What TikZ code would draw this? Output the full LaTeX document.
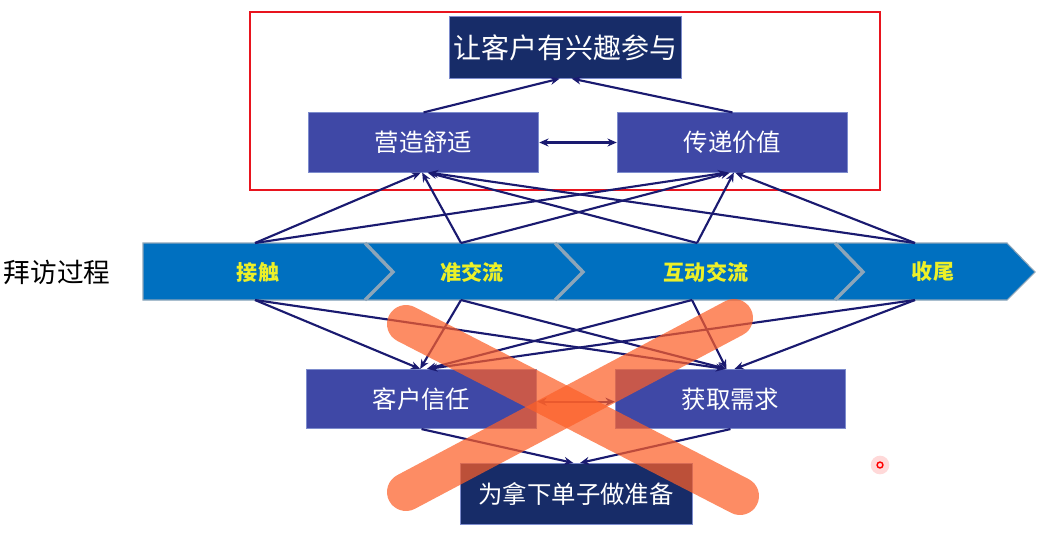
\documentclass[tikz,border=0pt]{standalone}
\usepackage{fontspec}
\setmainfont{Noto Sans CJK SC}
\usetikzlibrary{arrows.meta}
\definecolor{navy}{RGB}{23,44,104}
\definecolor{boxblue}{RGB}{63,72,166}
\definecolor{barblue}{RGB}{0,112,192}
\definecolor{linkblue}{RGB}{26,26,112}
\definecolor{crossorange}{RGB}{252,95,40}
\definecolor{stageyellow}{RGB}{236,240,40}
\definecolor{divgray}{RGB}{140,165,185}
\definecolor{framered}{RGB}{232,20,30}
\begin{document}
\begin{tikzpicture}[x=0.75pt,y=-0.75pt,
base/.style={%
  font={\color{white}\fontsize{18.3pt}{22pt}\selectfont},
  minimum width=173pt,
  minimum height=44.5pt,
  inner sep=0,
  fill=boxblue,
  draw={rgb,255:red,125;green,140;blue,205},
  line width=0.6pt,
},
goal/.style={%
  base,
  fill=navy,
  minimum width=174pt,
  minimum height=46pt,
},
stage/.style={%
  font={\bfseries\color{stageyellow}\fontsize{15.8pt}{18pt}\selectfont},
  inner sep=0,
},
link/.style={%
  draw=linkblue,
  line width=1.6pt,
  -{Stealth[length=7pt,width=6pt]},
},
both/.style={%
  link,
  {Stealth[length=7pt,width=6pt]}-{Stealth[length=7pt,width=6pt]},
},
cross/.style={%
  draw=crossorange,
  draw opacity=0.72,
  line width=28.5pt,
  line cap=round,
}
]
\useasboundingbox (0,0) rectangle (1044,533);

%Frame
\draw[framered,line width=1.1pt](250,12)rectangle(880,190);

%Goals
\node[goal,font={\color{white}\fontsize{21pt}{24pt}\selectfont}](goal)at(565,47.5){让客户有兴趣参与};
\node[base](ying)at(423.5,142.5){营造舒适};
\node[base](chuan)at(732.5,142.5){传递价值};
\draw[both](ying.east)--(chuan.west);
\draw[link](ying.north)--([xshift=-4pt]goal.south);
\draw[link](chuan.north)--([xshift=5pt]goal.south);

%Visit process
\node[font=\fontsize{20pt}{24pt}\selectfont](visit)at(57,272){拜访过程};
\fill[barblue](143,243)--(1007,243)--(1035,272)--(1007,300)--(143,300)--cycle;
\draw[divgray,line width=0.8pt](143,243)--(1007,243)--(1035,272)--(1007,300)--(143,300)--cycle;
\foreach \x in {365,555,835}
  \draw[divgray,line width=2.6pt](\x,243)--(\x+28,272)--(\x,300);
\node[stage](jiechu)at(258,272){接触};
\node[stage](zhun)at(472,272){准交流};
\node[stage](hudong)at(706,272){互动交流};
\node[stage](shouwei)at(933,272){收尾};
\coordinate(jc-n)at(255,243); \coordinate(jc-s)at(255,300);
\coordinate(zj-n)at(461,243); \coordinate(zj-s)at(461,300);
\coordinate(hd-n)at(697,243); \coordinate(hd-s)at(692,300);
\coordinate(sw-n)at(915,243); \coordinate(sw-s)at(915,300);

%Upward links
\draw[link](jc-n)--([xshift=-2pt]ying.south);
\draw[link](zj-n)--([xshift=-1pt]ying.south);
\draw[link](hd-n)--([xshift=3pt]ying.south);
\draw[link](sw-n)--([xshift=4pt]ying.south);
\draw[link](jc-n)--([xshift=-4pt]chuan.south);
\draw[link](zj-n)--([xshift=-2pt]chuan.south);
\draw[link](hd-n)--([xshift=1pt]chuan.south);
\draw[link](sw-n)--([xshift=2pt]chuan.south);

%Results
\node[base](xin)at(421.5,399){客户信任};
\node[base](huo)at(730.5,399){获取需求};
\node[goal](deal)at(576,494){为拿下单子做准备};
\draw[both]([yshift=-2pt]xin.east)--([yshift=-2pt]huo.west);
\draw[link](xin.south)--([xshift=-2pt]deal.north);
\draw[link](huo.south)--([xshift=3pt]deal.north);

%Downward links
\draw[link](jc-s)--([xshift=-1pt]xin.north);
\draw[link](zj-s)--([xshift=-1pt]xin.north);
\draw[link](hd-s)--([xshift=4pt]xin.north);
\draw[link](sw-s)--([xshift=5pt]xin.north);
\draw[link](jc-s)--([xshift=-4pt]huo.north);
\draw[link](zj-s)--([xshift=-3pt]huo.north);
\draw[link](hd-s)--([xshift=-3pt]huo.north);
\draw[link](sw-s)--([xshift=3pt]huo.north);

%Cross
\draw[cross](406,324)--(740,496);
\draw[cross](734,318)--(406,492);

%Pointer
\fill[red,opacity=0.15](880,465)circle(7pt);
\draw[red,line width=1.1pt](880,465)circle(2.2pt);
\end{tikzpicture}
\end{document}
